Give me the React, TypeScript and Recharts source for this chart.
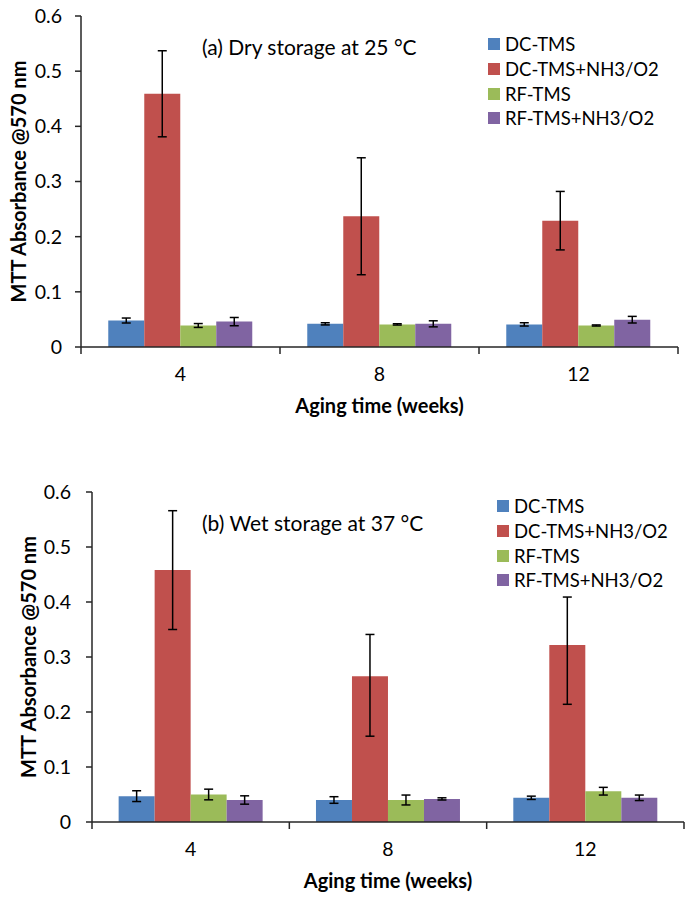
import React from 'react';
import { BarChart, Bar, XAxis, YAxis, ErrorBar, Legend } from 'recharts';

const FONT = 'Lato, "Open Sans", sans-serif';

const weeks = ['4', '8', '12'];
const seriesNames = ['DC-TMS', 'DC-TMS+NH3/O2', 'RF-TMS', 'RF-TMS+NH3/O2'];
const seriesColors = ['#4F81BD', '#C0504D', '#9BBB59', '#8064A2'];
const yTicks = [0, 0.1, 0.2, 0.3, 0.4, 0.5, 0.6];

// (a) Dry storage at 25 °C
const dryDC = [0.048, 0.042, 0.041];
const dryDCErr = [0.0045, 0.002, 0.003];
const dryDCN = [0.459, 0.237, 0.229];
const dryDCNErr = [0.078, 0.106, 0.053];
const dryRF = [0.039, 0.041, 0.039];
const dryRFErr = [0.0035, 0.0012, 0.001];
const dryRFN = [0.046, 0.042, 0.0495];
const dryRFNErr = [0.0075, 0.0055, 0.006];

// (b) Wet storage at 37 °C
const wetDC = [0.047, 0.040, 0.044];
const wetDCErr = [0.0098, 0.006, 0.003];
const wetDCN = [0.458, 0.265, 0.322];
const wetDCNErr = [[0.108, 0.108], [0.109, 0.076], [0.108, 0.087]];
const wetRF = [0.050, 0.040, 0.056];
const wetRFErr = [0.0097, 0.009, 0.007];
const wetRFN = [0.040, 0.042, 0.044];
const wetRFNErr = [0.0076, 0.002, 0.005];

function buildRows(vals: number[][], errs: any[][]) {
  return weeks.map((w, i) => {
    const row: any = { week: w };
    vals.forEach((v, k) => {
      row['s' + k] = v[i];
      row['e' + k] = errs[k][i];
    });
    return row;
  });
}

const dryRows = buildRows([dryDC, dryDCN, dryRF, dryRFN], [dryDCErr, dryDCNErr, dryRFErr, dryRFNErr]);
const wetRows = buildRows([wetDC, wetDCN, wetRF, wetRFN], [wetDCErr, wetDCNErr, wetRFErr, wetRFNErr]);

const AXIS = '#262626';
const FRAME = '#404040';

const XTick = (props: any) => {
  const { x, y, payload, index, visibleTicksCount } = props;
  const off = payload && payload.offset ? payload.offset : 0;
  const last = index === (visibleTicksCount ?? 3) - 1;
  return (
    <g>
      <line x1={x - off} y1={y} x2={x - off} y2={y + 7} stroke={AXIS} strokeWidth={1.5} />
      {last ? <line x1={x + off} y1={y} x2={x + off} y2={y + 7} stroke={AXIS} strokeWidth={1.5} /> : null}
      <text x={x} y={y + 26} textAnchor="middle" dominantBaseline="central" fontFamily={FONT} fontSize={19.5} fill="#000">
        {payload.value}
      </text>
    </g>
  );
};

const XTitle = (props: any) => {
  const vb = props.viewBox || {};
  const cx = vb.x + vb.width / 2;
  return (
    <text x={cx} y={vb.y + 58} textAnchor="middle" dominantBaseline="central" fontFamily={FONT} fontWeight="bold" fontSize={20} fill="#000">
      Aging time (weeks)
    </text>
  );
};

const makeYTitle = (dx: number) => (props: any) => {
  const vb = props.viewBox || {};
  const tx = vb.x + dx;
  const ty = vb.y + vb.height / 2;
  return (
    <text x={tx} y={ty} transform={`rotate(-90 ${tx} ${ty})`} textAnchor="middle" dominantBaseline="central" fontFamily={FONT} fontWeight="bold" fontSize={20} fill="#000">
      MTT Absorbance @570 nm
    </text>
  );
};

const LegendContent = (props: any) => {
  const { payload } = props;
  return (
    <div style={{ fontFamily: FONT, fontSize: 18.5, color: '#000' }}>
      {(payload || []).map((p: any, i: number) => (
        <div key={i} style={{ display: 'flex', alignItems: 'center', height: 24.7, whiteSpace: 'nowrap' }}>
          <span style={{ display: 'inline-block', width: 12, height: 12, background: p.color, marginRight: 5 }} />
          <span>{p.value}</span>
        </div>
      ))}
    </div>
  );
};

type PanelProps = {
  rows: any[];
  top: number;
  height: number;
  title: string;
  titleY: number;
  marginTop: number;
  marginRight: number;
  yAxisWidth: number;
  xAxisHeight: number;
  catGap: string;
  legendTop: number;
  legendLeft: number;
  yTitleX: number;
  yTickMargin: number;
};

const Panel = (p: PanelProps) => (
  <div style={{ position: 'absolute', left: 0, top: p.top, width: 685, height: p.height }}>
    <BarChart
      width={685}
      height={p.height}
      data={p.rows}
      margin={{ top: p.marginTop, right: p.marginRight, left: 0, bottom: 0 }}
      barCategoryGap={p.catGap}
      barGap={0}
    >
      <XAxis
        dataKey="week"
        height={p.xAxisHeight}
        axisLine={{ stroke: AXIS, strokeWidth: 1.5 }}
        tickLine={false}
        tickSize={0}
        tickMargin={0}
        tick={XTick}
        interval={0}
        label={XTitle}
      />
      <XAxis xAxisId="frameTop" dataKey="week" orientation="top" height={0} tick={false} tickLine={false} axisLine={{ stroke: FRAME, strokeWidth: 1.5 }} />
      <YAxis
        domain={[0, 0.6]}
        ticks={yTicks}
        interval={0}
        width={p.yAxisWidth}
        axisLine={{ stroke: AXIS, strokeWidth: 1.5 }}
        tickLine={{ stroke: AXIS, strokeWidth: 1.5 }}
        tickSize={6}
        tickMargin={p.yTickMargin}
        tick={{ fontFamily: FONT, fontSize: 19.5, fill: '#000' }}
        label={makeYTitle(p.yTitleX)}
      />
      <YAxis yAxisId="frameRight" orientation="right" width={0} domain={[0, 0.6]} tick={false} tickLine={false} axisLine={{ stroke: FRAME, strokeWidth: 1.5 }} />
      <Legend
        layout="vertical"
        align="center"
        verticalAlign="middle"
        wrapperStyle={{ left: p.legendLeft, top: p.legendTop, width: 'auto' }}
        content={LegendContent}
      />
      {seriesNames.map((name, k) => (
        <Bar key={name} dataKey={'s' + k} name={name} fill={seriesColors[k]} isAnimationActive={false}>
          <ErrorBar dataKey={'e' + k} width={4.5} stroke="#000" strokeWidth={1.5} direction="y" />
        </Bar>
      ))}
    </BarChart>
    <div
      style={{
        position: 'absolute',
        left: 202,
        top: p.titleY,
        transform: 'translateY(-50%)',
        fontFamily: FONT,
        fontSize: 21,
        whiteSpace: 'nowrap',
        color: '#000',
        lineHeight: '24px',
      }}
    >
      {p.title}
    </div>
  </div>
);

export default function App() {
  return (
    <div style={{ position: 'absolute', left: 0, top: 0, width: 685, height: 900, background: '#fff' }}>
      <Panel
        rows={dryRows}
        top={0}
        height={440}
        title="(a) Dry storage at 25 °C"
        titleY={47}
        marginTop={16}
        marginRight={7}
        yAxisWidth={81}
        xAxisHeight={93}
        catGap="13.7%"
        legendTop={32}
        legendLeft={488}
        yTitleX={18}
        yTickMargin={13}
      />
      <Panel
        rows={wetRows}
        top={470}
        height={430}
        title="(b) Wet storage at 37 °C"
        titleY={53}
        marginTop={22}
        marginRight={1}
        yAxisWidth={92}
        xAxisHeight={78}
        catGap="13.5%"
        legendTop={24}
        legendLeft={497}
        yTitleX={27.5}
        yTickMargin={15}
      />
    </div>
  );
}
